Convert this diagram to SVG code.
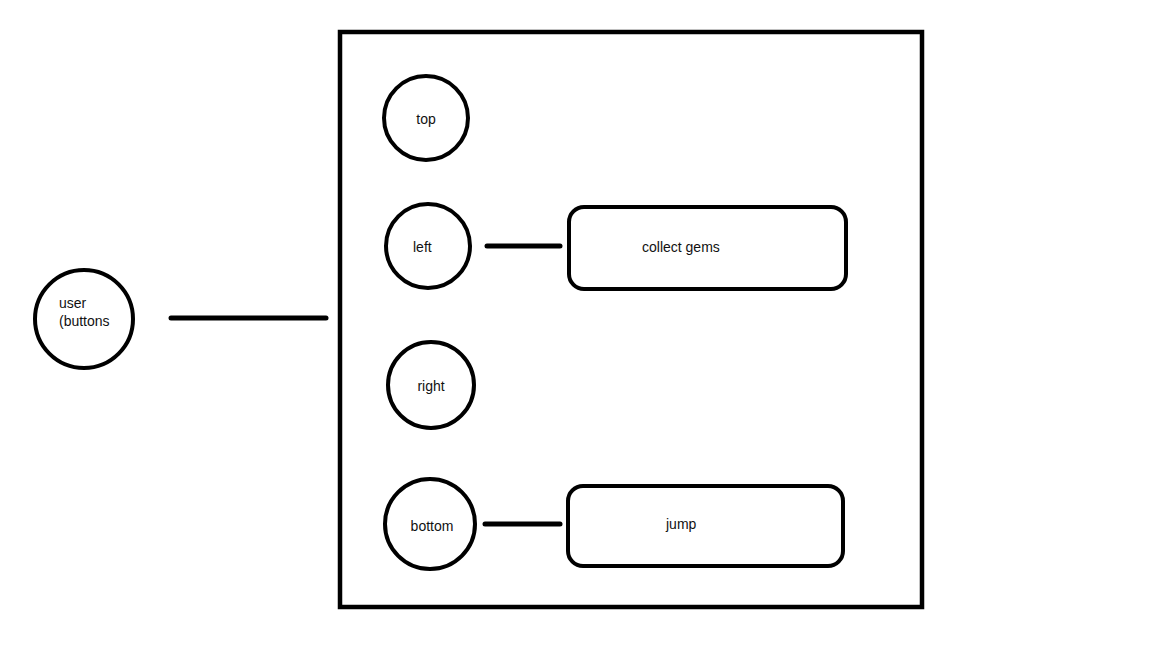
<svg xmlns="http://www.w3.org/2000/svg" width="1152" height="648" viewBox="0 0 1152 648">
  <style>
    .shape { fill: none; stroke: #000; stroke-width: 4; }
    .frame { fill: none; stroke: #000; stroke-width: 4.5; }
    .link { stroke: #000; stroke-width: 5; stroke-linecap: round; }
    .label { font-family: "Liberation Sans", Arial, sans-serif; font-size: 14px; fill: #111; }
  </style>
  <rect width="1152" height="648" fill="#fff"/>

  <!-- controller frame -->
  <g id="frame">
    <rect class="frame" x="340" y="32" width="582" height="575"/>
  </g>

  <g id="connectors">
    <line class="link" x1="171" y1="318" x2="326" y2="318"/>
    <line class="link" x1="487" y1="246" x2="560" y2="246"/>
    <line class="link" x1="485" y1="524" x2="560" y2="524"/>
  </g>

  <g id="user">
    <circle class="shape" cx="84" cy="319" r="49"/>
    <text class="label" x="59" y="308">user</text>
    <text class="label" x="59" y="326">(buttons</text>
  </g>

  <g id="top">
    <circle class="shape" cx="426" cy="118" r="42"/>
    <text class="label" x="426" y="124" text-anchor="middle">top</text>
  </g>

  <g id="left">
    <circle class="shape" cx="428" cy="246" r="42"/>
    <text class="label" x="413" y="252">left</text>
  </g>

  <g id="collect-gems">
    <rect class="shape" x="569" y="207" width="277" height="82" rx="15"/>
    <text class="label" x="642" y="252">collect gems</text>
  </g>

  <g id="right">
    <circle class="shape" cx="431" cy="385" r="43"/>
    <text class="label" x="431" y="391" text-anchor="middle">right</text>
  </g>

  <g id="bottom">
    <circle class="shape" cx="430" cy="524" r="45"/>
    <text class="label" x="432" y="531" text-anchor="middle">bottom</text>
  </g>

  <g id="jump">
    <rect class="shape" x="568" y="486" width="275" height="80" rx="15"/>
    <text class="label" x="666" y="529">jump</text>
  </g>
</svg>
